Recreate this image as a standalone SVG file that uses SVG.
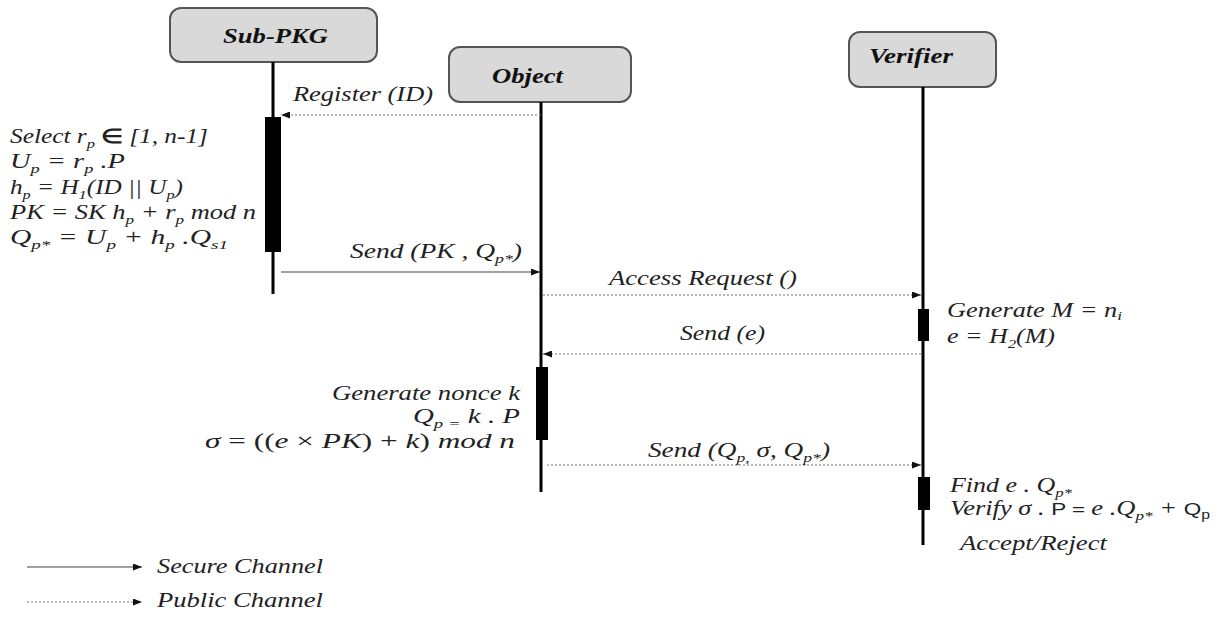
<svg xmlns="http://www.w3.org/2000/svg" width="1221" height="626" viewBox="0 0 1221 626">
<style>
.box{fill:#d9d9d9;stroke:#555;stroke-width:2}
.life{stroke:#000;stroke-width:3}
.act{fill:#000}
.sec{stroke:#444;stroke-width:1.2;fill:none}
.pub{stroke:#777;stroke-width:1.2;stroke-dasharray:2 2;fill:none}
</style>
<defs>
<marker id="ah" markerWidth="9" markerHeight="7" refX="9" refY="3.5" orient="auto" markerUnits="userSpaceOnUse">
<path d="M0,0 L9,3.5 L0,7 Z" fill="#111"/>
</marker>
</defs>

<g id="subpkg">
<rect class="box" x="170" y="8" width="207" height="54" rx="11"/>
<text font-family="Liberation Serif" font-weight="bold" font-style="italic" font-size="20" fill="#111" x="223" y="43" textLength="105" lengthAdjust="spacingAndGlyphs">Sub-PKG</text>
<line class="life" x1="273" y1="62" x2="273" y2="294"/>
<rect class="act" x="265" y="117" width="16" height="135"/>
<text font-family="Liberation Serif" font-style="italic" font-size="20" fill="#222" x="10" y="143" textLength="198" lengthAdjust="spacingAndGlyphs">Select r<tspan font-size="13" dy="5">p</tspan><tspan dy="-5"> </tspan><tspan font-weight="bold" font-style="normal">∈</tspan> [1, n-1]</text>
<text font-family="Liberation Serif" font-style="italic" font-size="20" fill="#222" x="10" y="168" textLength="115" lengthAdjust="spacingAndGlyphs">U<tspan font-size="13" dy="5">p</tspan><tspan dy="-5"> = r</tspan><tspan font-size="13" dy="5">p</tspan><tspan dy="-5"> .P</tspan></text>
<text font-family="Liberation Serif" font-style="italic" font-size="20" fill="#222" x="10" y="194" textLength="173" lengthAdjust="spacingAndGlyphs">h<tspan font-size="13" dy="5">p</tspan><tspan dy="-5"> = H</tspan><tspan font-size="13" dy="5">1</tspan><tspan dy="-5">(ID || U</tspan><tspan font-size="13" dy="5">p</tspan><tspan dy="-5">)</tspan></text>
<text font-family="Liberation Serif" font-style="italic" font-size="20" fill="#222" x="10" y="219" textLength="246" lengthAdjust="spacingAndGlyphs">PK = SK h<tspan font-size="13" dy="5">p</tspan><tspan dy="-5"> + r</tspan><tspan font-size="13" dy="5">p</tspan><tspan dy="-5"> mod n</tspan></text>
<text font-family="Liberation Serif" font-style="italic" font-size="20" fill="#222" x="10" y="244" textLength="218" lengthAdjust="spacingAndGlyphs">Q<tspan font-size="13" dy="5">p*</tspan><tspan dy="-5"> = U</tspan><tspan font-size="13" dy="5">p</tspan><tspan dy="-5">  + h</tspan><tspan font-size="13" dy="5">p</tspan><tspan dy="-5"> .Q</tspan><tspan font-size="13" dy="5">s1</tspan></text>
</g>

<g id="object">
<rect class="box" x="449" y="47" width="182" height="55" rx="11"/>
<text font-family="Liberation Serif" font-weight="bold" font-style="italic" font-size="20" fill="#111" x="492" y="83" textLength="71" lengthAdjust="spacingAndGlyphs">Object</text>
<line class="life" x1="541" y1="102" x2="541" y2="492"/>
<rect class="act" x="536" y="367" width="12" height="73"/>
<text font-family="Liberation Serif" font-style="italic" font-size="20" fill="#222" x="332" y="400" textLength="188" lengthAdjust="spacingAndGlyphs">Generate nonce k</text>
<text font-family="Liberation Serif" font-style="italic" font-size="20" fill="#222" x="413" y="423" textLength="107" lengthAdjust="spacingAndGlyphs">Q<tspan font-size="13" dy="5">p =</tspan><tspan dy="-5">  k . P</tspan></text>
<text font-family="Liberation Serif" font-style="italic" font-size="22" fill="#222" x="205" y="448" textLength="310" lengthAdjust="spacingAndGlyphs">σ <tspan font-style="normal">= ((</tspan>e <tspan font-style="normal">×</tspan> PK<tspan font-style="normal">) + </tspan>k<tspan font-style="normal">)</tspan>  mod n</text>
</g>

<g id="verifier">
<rect class="box" x="849" y="32" width="147" height="55" rx="11"/>
<text font-family="Liberation Serif" font-weight="bold" font-style="italic" font-size="20" fill="#111" x="869" y="63" textLength="84" lengthAdjust="spacingAndGlyphs">Verifier</text>
<line class="life" x1="923" y1="87" x2="923" y2="545"/>
<rect class="act" x="918" y="309" width="11" height="32"/>
<rect class="act" x="918" y="477" width="12" height="33"/>
<text font-family="Liberation Serif" font-style="italic" font-size="20" fill="#222" x="947" y="317" textLength="175" lengthAdjust="spacingAndGlyphs">Generate M = n<tspan font-size="13" dy="3">i</tspan></text>
<text font-family="Liberation Serif" font-style="italic" font-size="20" fill="#222" x="947" y="343" textLength="108" lengthAdjust="spacingAndGlyphs">e = H<tspan font-size="13" dy="5">2</tspan><tspan dy="-5">(M)</tspan></text>
<text font-family="Liberation Serif" font-style="italic" font-size="20" fill="#222" x="950" y="492" textLength="122" lengthAdjust="spacingAndGlyphs">Find e . Q<tspan font-size="13" dy="5">p*</tspan></text>
<text font-family="Liberation Serif" font-style="italic" font-size="20" fill="#222" x="950" y="515" textLength="260" lengthAdjust="spacingAndGlyphs">Verify σ . <tspan font-family="Liberation Sans" font-style="normal" font-size="17">P = </tspan>e .Q<tspan font-size="13" dy="5">p*</tspan><tspan dy="-5"> + </tspan><tspan font-family="Liberation Sans" font-style="normal" font-size="17">Q</tspan><tspan font-family="Liberation Sans" font-style="normal" font-size="12" dy="4">p</tspan></text>
<text font-family="Liberation Serif" font-style="italic" font-size="20" fill="#222" x="960" y="550" textLength="147" lengthAdjust="spacingAndGlyphs">Accept/Reject</text>
</g>

<g id="connectors">
<line class="pub" x1="541" y1="115" x2="281" y2="115" marker-end="url(#ah)"/>
<text font-family="Liberation Serif" font-style="italic" font-size="20" fill="#222" x="293" y="101" textLength="140" lengthAdjust="spacingAndGlyphs">Register (ID)</text>
<line class="sec" x1="281" y1="272" x2="540" y2="272" marker-end="url(#ah)"/>
<text font-family="Liberation Serif" font-style="italic" font-size="20" fill="#222" x="350" y="258" textLength="172" lengthAdjust="spacingAndGlyphs">Send (PK , Q<tspan font-size="13" dy="5">p*</tspan><tspan dy="-5">)</tspan></text>
<line class="pub" x1="543" y1="295" x2="921" y2="295" marker-end="url(#ah)"/>
<text font-family="Liberation Serif" font-style="italic" font-size="20" fill="#222" x="609" y="285" textLength="188" lengthAdjust="spacingAndGlyphs">Access Request ()</text>
<line class="pub" x1="921" y1="354" x2="543" y2="354" marker-end="url(#ah)"/>
<text font-family="Liberation Serif" font-style="italic" font-size="20" fill="#222" x="680" y="340" textLength="85" lengthAdjust="spacingAndGlyphs">Send (e)</text>
<line class="pub" x1="547" y1="465" x2="921" y2="465" marker-end="url(#ah)"/>
<text font-family="Liberation Serif" font-style="italic" font-size="20" fill="#222" x="648" y="457" textLength="182" lengthAdjust="spacingAndGlyphs">Send (Q<tspan font-size="13" dy="5">p,</tspan><tspan dy="-5"> σ, Q</tspan><tspan font-size="13" dy="5">p*</tspan><tspan dy="-5">)</tspan></text>
</g>

<g id="legend">
<line class="sec" x1="27" y1="567" x2="142" y2="567" marker-end="url(#ah)"/>
<text font-family="Liberation Serif" font-style="italic" font-size="20" fill="#222" x="157" y="573" textLength="166" lengthAdjust="spacingAndGlyphs">Secure Channel</text>
<line class="pub" x1="27" y1="602" x2="142" y2="602" marker-end="url(#ah)"/>
<text font-family="Liberation Serif" font-style="italic" font-size="20" fill="#222" x="157" y="607" textLength="166" lengthAdjust="spacingAndGlyphs">Public Channel</text>
</g>
</svg>
